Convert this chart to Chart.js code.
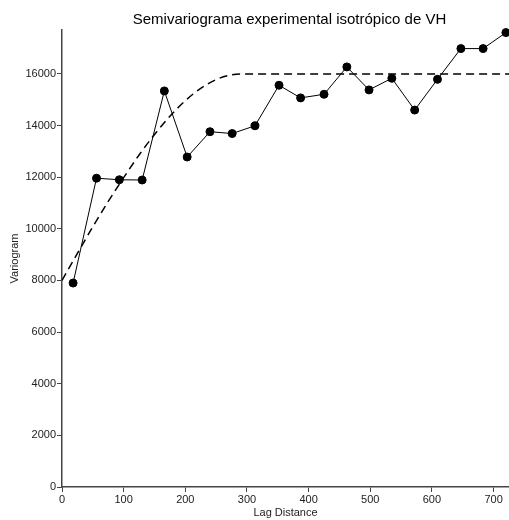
<!DOCTYPE html>
<html>
<head>
<meta charset="utf-8">
<script src="https://cdn.jsdelivr.net/npm/chart.js@4"></script>
<style>
  html, body { margin: 0; padding: 0; background: #fff; }
  #wrap { width: 509px; height: 520px; }
</style>
</head>
<body>
<div id="wrap"><canvas id="chart" width="509" height="520"></canvas></div>
<script>
const lagDistance = [18, 56, 93, 130, 166, 203, 240, 276, 313, 352, 387, 425, 462, 498, 535, 572, 609, 647, 683, 720];
const variogram = [7900, 11960, 11900, 11890, 15340, 12780, 13760, 13690, 13990, 15560, 15070, 15210, 16270, 15380, 15830, 14600, 15790, 16980, 16980, 17600];

// model curve
const modelLag = [0, 25, 50, 75, 100, 125, 150, 175, 200, 225, 250, 275, 290, 725];
const modelValue = [8000, 9050, 10080, 11060, 11980, 12860, 13650, 14360, 14960, 15440, 15780, 15965, 16000, 16000];

const xTicks = [0, 100, 200, 300, 400, 500, 600, 700];
const yTicks = [0, 2000, 4000, 6000, 8000, 10000, 12000, 14000, 16000];

const title = 'Semivariograma experimental isotrópico de VH';
const font = 'Liberation Sans, Arial, sans-serif';

const toPoints = (xs, ys) => xs.map((x, i) => ({ x: x, y: ys[i] }));

const titlePlugin = {
  id: 'centerTitle',
  afterDraw: (chart) => {
    const ctx = chart.ctx;
    const area = chart.chartArea;
    ctx.save();
    ctx.font = '15px ' + font;
    ctx.fillStyle = '#000';
    ctx.textAlign = 'center';
    ctx.textBaseline = 'alphabetic';
    ctx.fillText(title, (area.left + area.right) / 2 + 4, 24);
    ctx.restore();
  }
};

new Chart(document.getElementById('chart').getContext('2d'), {
  type: 'scatter',
  data: {
    datasets: [
      {
        label: 'Model',
        data: toPoints(modelLag, modelValue),
        showLine: true,
        borderColor: '#000',
        borderWidth: 1.5,
        borderDash: [8, 5],
        pointRadius: 0,
        cubicInterpolationMode: 'monotone',
        fill: false
      },
      {
        label: 'Experimental',
        data: toPoints(lagDistance, variogram),
        showLine: true,
        borderColor: '#000',
        borderWidth: 1,
        backgroundColor: '#000',
        pointBackgroundColor: '#000',
        pointBorderColor: '#000',
        pointRadius: 4,
        tension: 0,
        fill: false,
        clip: false
      }
    ]
  },
  options: {
    responsive: false,
    animation: false,
    devicePixelRatio: 1,
    layout: { autoPadding: false, padding: { top: 30, right: 0, left: 0, bottom: 0 } },
    plugins: {
      legend: { display: false },
      title: { display: false },
      tooltip: { enabled: false }
    },
    scales: {
      x: {
        type: 'linear',
        min: 0,
        max: 725,
        afterFit: (scale) => { scale.height = 33; },
        afterBuildTicks: (scale) => { scale.ticks = xTicks.map((v) => ({ value: v })); },
        ticks: {
          color: '#222',
          font: { family: font, size: 11 },
          padding: 1,
          maxRotation: 0
        },
        grid: { drawOnChartArea: false, tickLength: 5, color: '#444' },
        border: { color: '#444', width: 1.5 },
        title: {
          display: true,
          text: 'Lag Distance',
          color: '#222',
          font: { family: font, size: 11 },
          padding: { top: 2, bottom: 0 }
        }
      },
      y: {
        type: 'linear',
        min: 0,
        max: 17700,
        afterFit: (scale) => { scale.width = 62; },
        afterBuildTicks: (scale) => { scale.ticks = yTicks.map((v) => ({ value: v })); },
        ticks: {
          color: '#222',
          font: { family: font, size: 11 },
          padding: 1,
          callback: (v) => String(v)
        },
        grid: { drawOnChartArea: false, tickLength: 5, color: '#444' },
        border: { color: '#444', width: 1.5 },
        title: {
          display: true,
          text: 'Variogram',
          color: '#222',
          font: { family: font, size: 11 },
          padding: { top: 8, bottom: 0 }
        }
      }
    }
  },
  plugins: [titlePlugin]
});
</script>
</body>
</html>
